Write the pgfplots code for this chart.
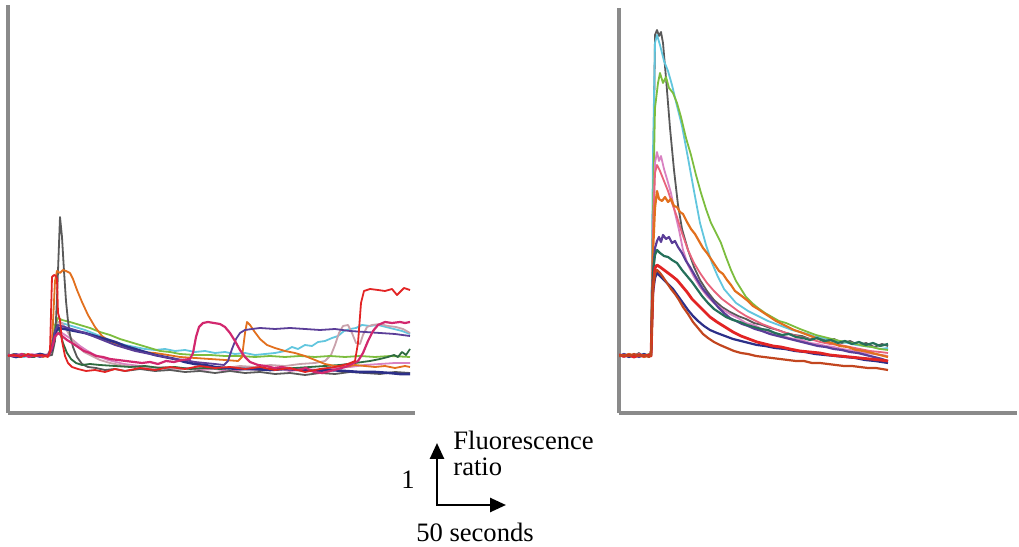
\documentclass[border=0pt]{standalone}
\usepackage{fontspec}
\setmainfont{Liberation Serif}
\usepackage{pgfplots}
\pgfplotsset{compat=1.18}
\usetikzlibrary{arrows.meta}

\definecolor{cgrey}{HTML}{595959}
\definecolor{corange}{HTML}{E2701E}
\definecolor{cred}{HTML}{E22424}
\definecolor{cgreen}{HTML}{7CBD3E}
\definecolor{ccyan}{HTML}{62C6DE}
\definecolor{cnavy}{HTML}{2C2F88}
\definecolor{cpurple}{HTML}{5B3E98}
\definecolor{cmagenta}{HTML}{D2286E}
\definecolor{cpink}{HTML}{D982C2}
\definecolor{cdkgreen}{HTML}{2E6B3F}
\definecolor{crosy}{HTML}{C9A2AC}
\definecolor{csalmon}{HTML}{E8637C}
\definecolor{cteal}{HTML}{25705A}
\definecolor{cbrown}{HTML}{C2461F}
\definecolor{caxis}{HTML}{8A8A8A}

\pgfplotsset{
  trace/.style={
    scale only axis,
    axis x line=bottom, axis y line=left,
    axis line style={-, caxis, line width=1.6pt},
    ticks=none,
    every axis plot/.append style={no markers, line width=0.9pt, line join=round},
  }
}

\begin{document}
\begin{tikzpicture}
\path[use as bounding box] (0,0) rectangle (509.5pt,273.5pt);

% left panel
\begin{axis}[trace, at={(4pt,67pt)}, anchor=south west,
  width=203.5pt, height=204pt, xmin=8, xmax=415, ymin=0, ymax=408]
\addplot[cpink] coordinates {(8,57)(16,58)(24,57)(32,59)(40,57)(48,58)(52,66)(55,78)(58,84)(62,80)(68,76)(74,72)(80,67)(86,63)(93,59)(100,56)(108,53)(116,51)(124,49)(132,48)(140,47)(150,46)(160,45)(170,44)(185,45)(200,43)(215,44)(230,42)(245,44)(260,43)(275,45)(290,42)(305,44)(320,43)(335,45)(350,46)(365,48)(380,49)(395,50)(410,50)};
\addplot[ccyan] coordinates {(8,57)(16,58)(24,56)(32,58)(40,57)(48,58)(52,64)(55,84)(58,91)(65,89)(75,86)(85,83)(95,79)(105,75)(115,71)(125,68)(135,66)(145,64)(155,63)(165,64)(175,62)(185,63)(195,61)(205,62)(215,60)(225,61)(235,59)(245,60)(255,58)(265,59)(275,60)(285,62)(292,66)(298,64)(305,68)(312,67)(318,71)(325,72)(332,75)(338,77)(344,82)(350,84)(356,85)(362,88)(370,87)(378,88)(386,86)(394,84)(402,82)(410,79)};
\addplot[crosy] coordinates {(8,57)(16,59)(24,57)(32,58)(40,57)(48,59)(52,68)(55,84)(58,91)(62,90)(66,84)(71,75)(77,67)(84,61)(92,57)(100,53)(110,50)(120,48)(135,46)(150,45)(165,46)(180,44)(195,45)(210,46)(225,45)(240,47)(255,46)(270,48)(285,47)(300,49)(315,50)(325,52)(331,58)(335,68)(339,80)(343,87)(348,88)(352,80)(356,70)(360,69)(363,78)(367,86)(372,88)(380,89)(388,87)(396,86)(403,84)(410,80)};
\addplot[cgreen] coordinates {(8,58)(16,57)(24,59)(32,56)(40,58)(48,57)(52,62)(55,88)(58,95)(62,93)(70,91)(80,88)(90,85)(100,81)(110,78)(120,74)(130,71)(140,68)(150,65)(160,62)(170,61)(180,59)(195,58)(210,58)(225,57)(240,57)(255,56)(270,57)(285,56)(300,57)(315,56)(330,57)(345,56)(360,57)(375,56)(390,57)(410,56)};
\addplot[cgrey] coordinates {(8,57)(14,59)(20,56)(27,58)(34,56)(41,59)(47,57)(52,58)(55,72)(57,115)(60,196)(62,176)(64,142)(66,112)(68,92)(70,78)(73,66)(77,56)(82,49)(88,46)(96,45)(105,43)(115,44)(125,42)(140,44)(155,42)(170,43)(185,41)(200,42)(215,40)(230,42)(245,40)(260,41)(275,39)(290,40)(305,38)(320,40)(335,39)(350,41)(365,40)(380,39)(395,41)(410,40)};
\addplot[cdkgreen] coordinates {(8,58)(16,57)(24,58)(32,56)(40,58)(48,57)(52,64)(55,82)(57,88)(60,81)(63,70)(67,60)(71,54)(76,50)(82,48)(90,49)(100,48)(115,47)(130,46)(145,47)(160,45)(175,46)(190,44)(205,45)(220,44)(235,45)(250,44)(265,43)(280,44)(295,45)(310,46)(325,47)(340,48)(355,50)(370,52)(380,54)(388,56)(394,58)(398,56)(402,61)(406,58)(410,64)};
\addplot[corange] coordinates {(8,58)(15,56)(22,59)(29,57)(36,58)(43,56)(49,58)(52,70)(55,132)(57,142)(60,140)(63,143)(66,142)(70,140)(73,134)(77,123)(82,111)(88,98)(95,86)(102,77)(110,71)(120,67)(130,64)(142,61)(155,60)(168,58)(180,56)(195,55)(210,54)(225,53)(238,52)(242,56)(245,80)(247,91)(250,88)(254,82)(260,74)(267,68)(275,65)(285,62)(295,60)(305,57)(315,53)(325,49)(335,47)(345,46)(355,48)(365,47)(375,46)(385,47)(395,45)(405,47)(410,46)};
\addplot[cnavy, line width=1.3pt] coordinates {(8,58)(16,56)(24,58)(32,57)(40,59)(48,57)(52,64)(55,80)(58,85)(65,84)(75,82)(85,80)(95,77)(105,74)(115,71)(125,67)(135,64)(145,61)(155,58)(165,56)(175,54)(185,51)(195,49)(205,48)(215,46)(225,45)(240,44)(255,44)(270,43)(285,44)(300,43)(315,42)(330,43)(345,42)(360,41)(375,41)(390,40)(400,39)(410,39)};
\addplot[cpurple] coordinates {(8,57)(16,59)(24,57)(32,58)(40,56)(48,58)(52,66)(55,82)(58,88)(65,86)(75,83)(85,80)(95,76)(105,72)(115,68)(125,65)(135,62)(145,60)(155,58)(165,56)(175,54)(185,53)(195,51)(205,50)(215,49)(224,48)(228,52)(232,64)(236,74)(240,80)(245,83)(252,84)(260,85)(275,84)(290,85)(305,84)(320,83)(335,84)(350,82)(365,81)(380,80)(395,79)(410,77)};
\addplot[cmagenta, line width=1.1pt] coordinates {(8,58)(15,57)(22,59)(29,56)(36,58)(43,57)(49,58)(52,65)(55,76)(58,80)(62,77)(67,73)(72,70)(78,66)(84,62)(90,60)(96,57)(103,56)(110,54)(118,53)(126,52)(134,51)(142,50)(150,51)(158,49)(166,52)(174,51)(182,53)(190,54)(193,60)(196,76)(199,86)(203,90)(208,91)(214,90)(220,89)(225,86)(230,80)(235,72)(240,63)(245,56)(250,51)(258,48)(266,47)(274,45)(282,46)(290,44)(298,43)(306,45)(314,41)(322,40)(330,42)(338,44)(345,46)(352,49)(358,52)(363,60)(368,72)(373,82)(378,88)(385,91)(392,90)(400,91)(405,90)(410,91)};
\addplot[cred] coordinates {(8,57)(14,58)(21,56)(28,59)(35,57)(42,58)(48,56)(50,62)(52,136)(54,138)(56,137)(57,134)(58,100)(60,93)(62,72)(65,57)(68,50)(72,46)(78,44)(86,42)(95,43)(105,41)(115,44)(125,42)(140,45)(155,43)(170,46)(185,44)(200,47)(215,45)(230,46)(245,44)(260,46)(275,43)(290,45)(305,41)(320,44)(335,46)(348,49)(355,52)(358,70)(361,110)(364,122)(370,124)(378,123)(385,122)(392,124)(397,118)(400,121)(404,125)(410,123)};
\end{axis}

% right panel
\begin{axis}[trace, at={(309.5pt,67pt)}, anchor=south west,
  width=199pt, height=202.5pt, xmin=619, xmax=1017, ymin=0, ymax=405]
\addplot[cgrey] coordinates {(619,58)(624,56)(629,59)(634,57)(639,60)(644,56)(649,58)(651,57)(653,210)(655,378)(657,383)(659,377)(661,381)(663,370)(666,335)(670,285)(674,243)(678,208)(682,184)(688,163)(694,146)(700,133)(707,122)(714,113)(722,106)(730,101)(738,97)(746,94)(754,90)(762,88)(770,85)(778,83)(786,80)(794,78)(802,77)(810,74)(818,76)(826,72)(834,74)(842,70)(850,72)(858,68)(866,70)(874,66)(882,69)(888,67)};
\addplot[ccyan] coordinates {(619,57)(624,59)(629,56)(634,58)(639,57)(644,59)(649,57)(651,58)(653,260)(655,370)(657,378)(660,368)(664,352)(668,342)(672,328)(677,307)(682,287)(688,255)(694,222)(700,190)(706,168)(712,150)(718,136)(724,124)(730,117)(736,110)(742,106)(748,102)(754,99)(760,96)(768,92)(776,89)(784,86)(792,83)(800,81)(808,79)(816,76)(824,75)(832,72)(840,71)(848,70)(856,68)(864,67)(872,66)(880,64)(888,65)};
\addplot[cgreen] coordinates {(619,58)(624,57)(629,59)(634,56)(639,58)(644,57)(649,59)(651,58)(653,200)(655,305)(658,330)(660,340)(663,330)(666,336)(669,325)(673,320)(677,310)(681,296)(686,275)(691,258)(696,238)(701,220)(706,204)(711,190)(716,180)(721,170)(726,156)(731,143)(736,132)(741,124)(746,116)(752,110)(758,105)(765,100)(772,96)(779,92)(786,90)(793,87)(800,84)(808,81)(816,78)(824,76)(832,74)(840,72)(848,71)(856,69)(864,67)(872,66)(880,64)(888,63)};
\addplot[cpink] coordinates {(619,57)(624,58)(629,56)(634,59)(639,57)(644,58)(649,56)(651,58)(653,180)(655,250)(657,261)(659,252)(661,257)(664,244)(667,234)(671,220)(675,200)(679,183)(683,163)(688,148)(694,136)(700,126)(707,117)(714,110)(722,104)(730,99)(738,95)(746,90)(754,88)(762,84)(770,81)(778,79)(786,76)(794,74)(802,73)(810,70)(818,69)(826,67)(834,66)(842,64)(850,63)(858,61)(866,60)(874,59)(882,58)(888,57)};
\addplot[csalmon] coordinates {(619,58)(624,56)(629,58)(634,57)(639,59)(644,57)(649,58)(651,57)(653,180)(655,240)(657,248)(660,242)(664,232)(668,222)(672,210)(677,196)(682,180)(688,163)(694,150)(700,140)(707,130)(714,122)(722,114)(730,108)(738,102)(746,97)(754,93)(762,89)(770,86)(780,82)(790,79)(800,76)(810,74)(820,71)(830,69)(840,68)(850,66)(860,64)(870,62)(880,61)(888,60)};
\addplot[corange, line width=1.1pt] coordinates {(619,58)(624,57)(629,59)(634,57)(639,58)(644,56)(649,58)(651,57)(653,160)(655,205)(657,222)(659,214)(662,212)(665,216)(668,211)(671,214)(674,207)(677,206)(680,201)(683,199)(687,191)(691,184)(695,179)(699,172)(703,165)(707,160)(711,154)(715,148)(719,142)(723,139)(727,133)(731,128)(735,122)(739,119)(743,116)(748,112)(753,107)(758,104)(764,100)(770,96)(776,92)(782,89)(788,86)(794,83)(800,81)(808,78)(816,75)(824,72)(832,70)(840,67)(848,66)(856,63)(864,62)(872,60)(880,58)(888,56)};
\addplot[cpurple, line width=1.1pt] coordinates {(619,57)(624,59)(629,57)(634,58)(639,56)(644,58)(649,57)(651,58)(653,140)(655,165)(657,172)(659,176)(661,171)(663,178)(666,174)(669,176)(672,170)(675,172)(678,166)(682,160)(686,152)(690,146)(694,139)(698,132)(703,124)(708,118)(713,112)(718,106)(724,100)(730,95)(736,92)(742,89)(748,87)(755,84)(762,82)(770,79)(778,77)(786,75)(794,73)(802,71)(810,69)(818,67)(826,66)(834,64)(842,63)(850,61)(858,60)(866,58)(874,56)(882,54)(888,52)};
\addplot[cteal, line width=1.1pt] coordinates {(619,58)(624,57)(629,58)(634,56)(639,58)(644,57)(649,58)(651,57)(653,140)(655,158)(657,163)(660,160)(664,157)(668,156)(672,153)(677,150)(682,143)(687,137)(692,131)(697,124)(702,117)(708,110)(714,104)(720,100)(726,96)(733,93)(740,91)(747,88)(754,86)(761,84)(768,83)(775,80)(782,78)(789,79)(796,76)(803,75)(810,73)(817,75)(824,72)(831,73)(838,70)(845,72)(852,69)(859,71)(866,68)(873,70)(880,67)(888,69)};
\addplot[cnavy, line width=1.1pt] coordinates {(619,57)(624,58)(629,56)(634,58)(639,57)(644,59)(649,57)(651,58)(653,120)(655,135)(657,140)(660,137)(664,133)(668,129)(673,124)(678,117)(683,110)(688,103)(693,97)(698,92)(704,87)(710,83)(717,80)(725,77)(733,74)(741,72)(749,70)(757,68)(765,67)(775,65)(785,64)(795,62)(805,61)(815,59)(825,58)(835,57)(845,56)(855,55)(865,53)(875,52)(888,50)};
\addplot[cred, line width=1.4pt] coordinates {(619,58)(624,57)(629,58)(634,56)(639,58)(644,57)(649,58)(651,57)(653,125)(655,145)(657,148)(660,146)(664,143)(668,140)(672,137)(677,133)(682,127)(687,121)(692,114)(697,109)(703,103)(710,96)(717,91)(725,86)(733,81)(741,77)(749,74)(757,71)(765,69)(773,67)(781,66)(790,64)(800,62)(810,61)(820,60)(830,58)(840,57)(850,56)(860,55)(870,54)(880,53)(888,52)};
\addplot[cbrown, line width=1.1pt] coordinates {(619,57)(624,58)(629,57)(634,59)(639,57)(644,58)(649,56)(651,58)(653,125)(655,140)(657,143)(660,140)(663,136)(667,130)(671,124)(675,119)(679,113)(683,106)(688,99)(693,91)(698,85)(703,79)(708,75)(714,71)(720,68)(727,65)(734,62)(741,60)(748,59)(756,57)(764,56)(772,55)(780,54)(788,53)(796,52)(804,52)(812,50)(820,50)(828,49)(836,48)(844,47)(852,47)(860,46)(868,45)(876,45)(888,43)};
\end{axis}

% scale bar
\draw[line width=1.3pt, {Triangle[length=8pt,width=7pt]}-{Triangle[length=8pt,width=7pt]}]
  (218.5pt,52pt) -- (218.5pt,21pt) -- (253pt,21pt);
\begin{scope}[every node/.style={font=\fontsize{13.3}{13.5}\selectfont, inner sep=0pt}]
\node[anchor=west] at (226.5pt,53.5pt) {Fluorescence};
\node[anchor=west] at (226.5pt,40pt) {ratio};
\node at (204pt,33.5pt) {1};
\node at (237.5pt,7.5pt) {50 seconds};
\end{scope}
\end{tikzpicture}
\end{document}
